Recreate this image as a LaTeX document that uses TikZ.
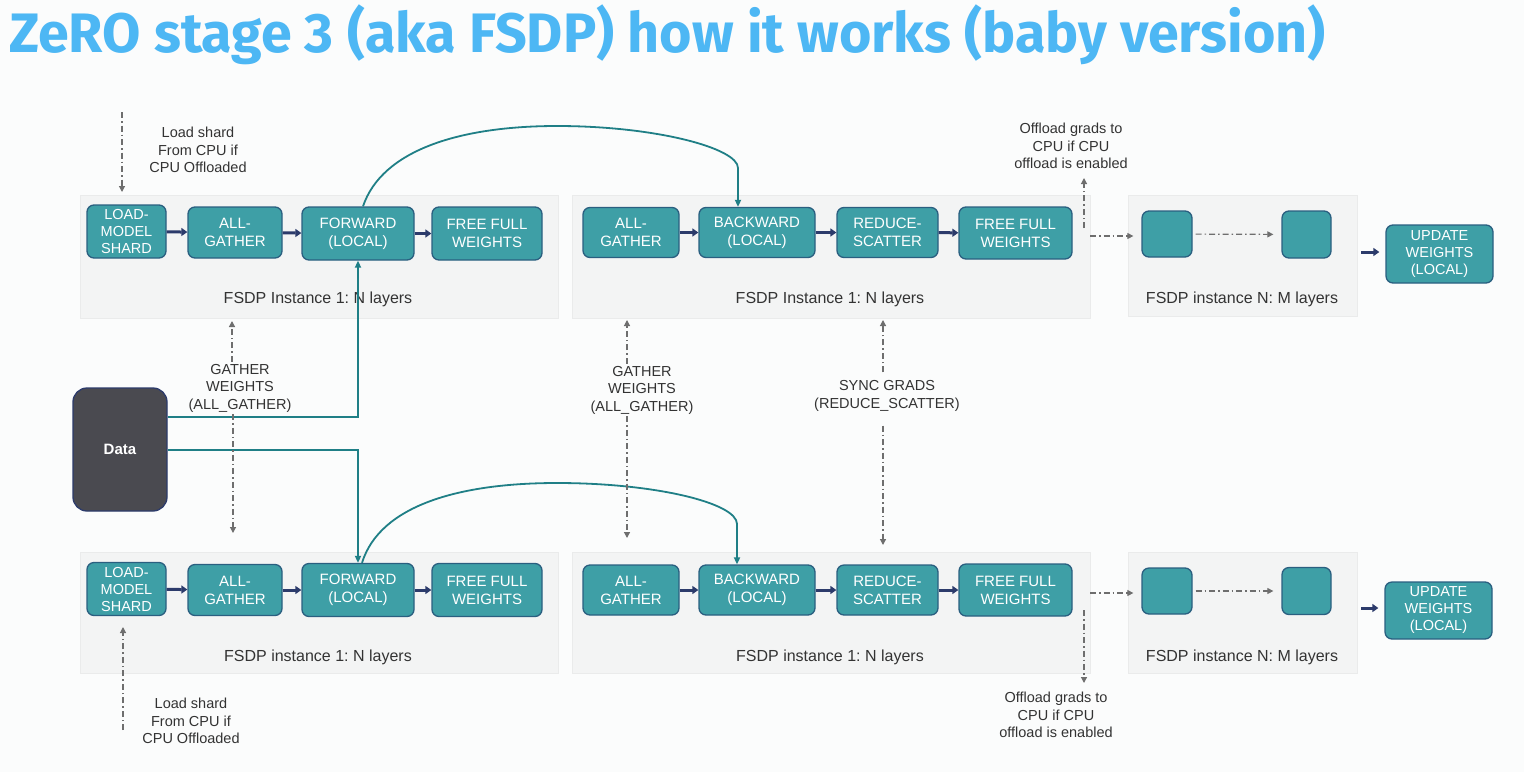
\documentclass[tikz,border=0pt]{standalone}
\usepackage{fontspec}
\setmainfont{Liberation Sans}
\newfontfamily\titlefam{Fira Sans}
\usetikzlibrary{arrows.meta,calc}
\definecolor{bgc}{HTML}{FBFCFC}
\definecolor{panelc}{HTML}{F3F4F4}
\definecolor{paneld}{HTML}{EAEBEB}
\definecolor{boxf}{HTML}{3E9FA6}
\definecolor{boxd}{HTML}{2A5F80}
\definecolor{navy}{HTML}{2C3B6B}
\definecolor{tealc}{HTML}{1F7F86}
\definecolor{dgrey}{HTML}{6E6E6E}
\definecolor{txt}{HTML}{333333}
\definecolor{titlec}{HTML}{4DB7F4}
\definecolor{datac}{HTML}{4A4A50}
\begin{document}
\frenchspacing
\begin{tikzpicture}[x=1pt,y=-1pt,
 stepbox/.style={draw=boxd, fill=boxf, line width=1.3pt, rounded corners=7pt, text=white, align=center, inner sep=0pt, font=\fontsize{15}{18}\selectfont},
 smallbox/.style={stepbox, font=\fontsize{14.5}{17}\selectfont},
 navarrow/.style={draw=navy, line width=3pt, -{Triangle[length=6pt,width=8pt]}},
 tl/.style={draw=tealc, line width=1.8pt},
 tla/.style={tl, -{Triangle[length=7pt,width=6pt]}},
 dd/.style={draw=dgrey, line width=1.2pt, dash pattern=on 6pt off 3pt on 1.5pt off 3pt, -{Triangle[length=6pt,width=6pt]}},
 lab/.style={text=txt, align=center, font=\fontsize{14.5}{17.5}\selectfont, inner sep=2pt},
 plab/.style={text=txt, font=\fontsize{16}{19}\selectfont\frenchspacing, inner sep=0pt},
 panel/.style={fill=panelc, draw=paneld, line width=0.6pt}
]
\useasboundingbox (0,0) rectangle (1524,772);
\fill[bgc] (0,0) rectangle (1524,772);

% title
\node[anchor=base west, inner sep=0pt, text=titlec, font=\titlefam\bfseries\fontsize{55.6}{60}\selectfont] (title) at (9,52) {ZeRO stage 3 (aka FSDP) how it works (baby version)};

% panels
\path[panel] (80,195) rectangle (558,318);
\path[panel] (572,195) rectangle (1090,318);
\path[panel] (1128,195) rectangle (1357,316);
\path[panel] (80,552) rectangle (558,673);
\path[panel] (572,552) rectangle (1090,673);
\path[panel] (1128,552) rectangle (1357,673);

\node[plab] (pl1) at (318,299) {FSDP Instance 1: N layers};
\node[plab] (pl2) at (830,299) {FSDP Instance 1: N layers};
\node[plab] (pl3) at (1242,299) {FSDP instance N: M layers};
\node[plab] (pl4) at (318,657) {FSDP instance 1: N layers};
\node[plab] (pl5) at (830,657) {FSDP instance 1: N layers};
\node[plab] (pl6) at (1242,657) {FSDP instance N: M layers};

% row 1 boxes
\node[smallbox, minimum width=79, minimum height=53] (l1) at (126.5,231.5) {LOAD-\\MODEL\\SHARD};
\node[stepbox, minimum width=94, minimum height=51] (a1) at (235,232.5) {ALL-\\GATHER};
\node[stepbox, minimum width=112, minimum height=53] (f1) at (358,233.5) {FORWARD\\(LOCAL)};
\node[stepbox, minimum width=110, minimum height=53] (r1) at (487,233.5) {FREE FULL\\WEIGHTS};
\node[stepbox, minimum width=96, minimum height=50] (g1) at (631,232.5) {ALL-\\GATHER};
\node[stepbox, minimum width=116, minimum height=50] (b1) at (757,232.5) {BACKWARD\\(LOCAL)};
\node[stepbox, minimum width=101, minimum height=50] (s1) at (887.5,232.5) {REDUCE-\\SCATTER};
\node[stepbox, minimum width=113, minimum height=52] (e1) at (1015.5,233) {FREE FULL\\WEIGHTS};
\node[stepbox, minimum width=50, minimum height=46] (q1) at (1167,234) {};
\node[stepbox, minimum width=49, minimum height=47] (p1) at (1306.5,234.5) {};
\node[smallbox, minimum width=107, minimum height=58] (u1) at (1439.5,254) {UPDATE\\WEIGHTS\\(LOCAL)};

% row 2 boxes
\node[smallbox, minimum width=79, minimum height=53] (l2) at (126.5,589) {LOAD-\\MODEL\\SHARD};
\node[stepbox, minimum width=94, minimum height=51] (a2) at (235,590) {ALL-\\GATHER};
\node[stepbox, minimum width=112, minimum height=53] (f2) at (358,590) {FORWARD\\(LOCAL)};
\node[stepbox, minimum width=110, minimum height=53] (r2) at (487,590) {FREE FULL\\WEIGHTS};
\node[stepbox, minimum width=96, minimum height=50] (g2) at (631,590) {ALL-\\GATHER};
\node[stepbox, minimum width=116, minimum height=50] (b2) at (757,590) {BACKWARD\\(LOCAL)};
\node[stepbox, minimum width=101, minimum height=50] (s2) at (887.5,590) {REDUCE-\\SCATTER};
\node[stepbox, minimum width=113, minimum height=52] (e2) at (1015.5,590) {FREE FULL\\WEIGHTS};
\node[stepbox, minimum width=50, minimum height=46] (q2) at (1167,591) {};
\node[stepbox, minimum width=49, minimum height=47] (p2) at (1306.5,591) {};
\node[smallbox, minimum width=107, minimum height=57] (u2) at (1438.5,610.5) {UPDATE\\WEIGHTS\\(LOCAL)};

% data
\node[draw=navy, fill=datac, rounded corners=14pt, line width=1.3pt, minimum width=94, minimum height=123, text=white, font=\bfseries\fontsize{15}{18}\selectfont] (data) at (120,449.5) {Data};

% navy arrows
\foreach \a/\b in {l1/a1,a1/f1,f1/r1,g1/b1,b1/s1,s1/e1,l2/a2,a2/f2,f2/r2,g2/b2,b2/s2,s2/e2}
  \draw[navarrow] (\a) -- (\b);
\coordinate (ua1) at (1361,252);
\coordinate (ua2) at (1361,608);
\draw[navarrow, shorten >=6pt] (ua1) -- (ua1 -| u1.west);
\draw[navarrow, shorten >=6pt] (ua2) -- (ua2 -| u2.west);

% data lines
\draw[tla] (data.east |- 0,417) -| (f1.south);
\draw[tla] (data.east |- 0,450) -| (f2.north);

% curves
\draw[tla] ([xshift=5pt]f1.north) .. controls (382,150) and (460,126) .. (557,126) .. controls (655,126) and (738,148) .. (738,168) -- ([xshift=-19pt]b1.north);
\draw[tla] ([xshift=4pt]f2.north) .. controls (380,505) and (460,483) .. (557,483) .. controls (655,483) and (737,503) .. (737,524) -- ([xshift=-20pt]b2.north);

% labels with dash-dot arrows
\node[lab] (ls1) at (198,150) {Load shard\\From CPU if\\CPU Offloaded};
\coordinate (ls1s) at (122,112);
\coordinate (ls1e) at (122,192);
\draw[dd] (ls1s) -- (ls1e);

\node[lab] (ls2) at (191,721) {Load shard\\From CPU if\\CPU Offloaded};
\coordinate (ls2s) at (123,730);
\coordinate (ls2e) at (123,627);
\draw[dd] (ls2s) -- (ls2e);

\node[lab] (gw1) at (240,388) {GATHER\\WEIGHTS\\(ALL\_GATHER)};
\coordinate (gw1t) at (232,321);
\coordinate (gw1b) at (233,533);
\draw[dd] (gw1.north -| gw1t) -- (gw1t);
\draw[dd] (gw1.south -| gw1b) -- (gw1b);

\node[lab] (gw2) at (642,390) {GATHER\\WEIGHTS\\(ALL\_GATHER)};
\coordinate (gw2t) at (627,320);
\coordinate (gw2b) at (627,538);
\draw[dd] (gw2.north -| gw2t) -- (gw2t);
\draw[dd] (gw2.south -| gw2b) -- (gw2b);

\node[lab] (sg) at (887,396) {SYNC GRADS\\(REDUCE\_SCATTER)};
\coordinate (sgt) at (883,320);
\coordinate (sgb) at (883,545);
\draw[dd] ([yshift=6pt]sg.north -| sgt) -- (sgt);
\draw[dd] ([yshift=-12pt]sg.south -| sgb) -- (sgb);

\node[lab] (og1) at (1071,146) {Offload grads to\\CPU if CPU\\offload is enabled};
\coordinate (og1s) at (1084,228);
\coordinate (og1e) at (1084,178);
\draw[dd] (og1s) -- (og1e);

\node[lab] (og2) at (1056,715) {Offload grads to\\CPU if CPU\\offload is enabled};
\coordinate (og2s) at (1084,610);
\coordinate (og2e) at (1084,683);
\draw[dd] (og2s) -- (og2e);

% horizontal dash-dot arrows
\draw[dd, shorten >=8pt] (1090,236) -- (q1.west |- 0,236);
\draw[dd, shorten >=8pt] (1090,593) -- (q2.west |- 0,593);
\draw[dd, shorten <=3pt, shorten >=8pt] (q1) -- (p1);
\draw[dd, shorten <=3pt, shorten >=8pt] (q2) -- (p2);
\end{tikzpicture}
\end{document}
